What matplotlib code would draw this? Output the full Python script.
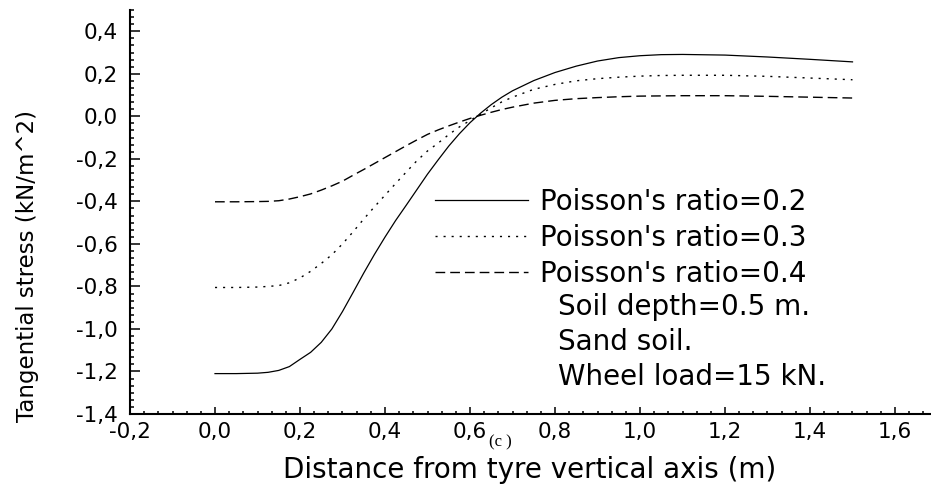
import numpy as np
import matplotlib
matplotlib.use("Agg")
import matplotlib.pyplot as plt
from matplotlib.ticker import MultipleLocator, AutoMinorLocator, FuncFormatter

# distance from tyre vertical axis (m)
distance = [0.0, 0.05,
            0.1, 0.125, 0.15, 0.175, 0.2, 0.225, 0.25, 0.275, 0.3, 0.325, 0.35, 0.375,
            0.4, 0.425, 0.45, 0.475, 0.5, 0.525, 0.55, 0.575, 0.6, 0.625, 0.65, 0.675,
            0.7, 0.75, 0.8, 0.85, 0.9, 0.95, 1.0, 1.05, 1.1, 1.2, 1.3, 1.4, 1.5]

# tangential stress (kN/m^2) for each Poisson's ratio
stress_02 = [-1.21, -1.21,
             -1.208, -1.204, -1.195, -1.177, -1.143, -1.11, -1.063, -1.0, -0.918,
             -0.828, -0.737, -0.65, -0.568, -0.49, -0.418, -0.345, -0.272, -0.205,
             -0.14, -0.082, -0.03, 0.015, 0.055, 0.09,
             0.12, 0.168, 0.206, 0.236, 0.26, 0.276, 0.285, 0.29, 0.291,
             0.288, 0.279, 0.268, 0.256]
stress_03 = [-0.805, -0.805,
             -0.803, -0.80, -0.796, -0.783, -0.76, -0.729, -0.692, -0.651, -0.60,
             -0.543, -0.483, -0.426, -0.371, -0.316, -0.262, -0.209, -0.163, -0.126,
             -0.086, -0.05, -0.02, 0.01, 0.04, 0.068,
             0.09, 0.127, 0.15, 0.167, 0.177, 0.184, 0.189, 0.192, 0.193,
             0.193, 0.188, 0.18, 0.172]
stress_04 = [-0.402, -0.402,
             -0.401, -0.40, -0.397, -0.389, -0.378, -0.365, -0.347, -0.327, -0.305,
             -0.277, -0.25, -0.222, -0.194, -0.166, -0.138, -0.111, -0.085, -0.064,
             -0.045, -0.027, -0.01, 0.005, 0.019, 0.032,
             0.043, 0.062, 0.075, 0.083, 0.088, 0.092, 0.095, 0.096, 0.097,
             0.097, 0.094, 0.09, 0.086]

labels = ["Poisson's ratio=0.2", "Poisson's ratio=0.3", "Poisson's ratio=0.4"]
notes = ["Soil depth=0.5 m.", "Sand soil.", "Wheel load=15 kN."]

W, H = 931, 486
fig = plt.figure(figsize=(W / 100, H / 100), dpi=100)
ax = fig.add_axes([130 / W, (H - 414) / H, (W - 130) / W, (414 - 10) / H])

ax.plot(distance, stress_02, color='black', lw=0.9, ls='-', label=labels[0])
ax.plot(distance, stress_03, color='black', lw=1.0, ls=(0, (1.5, 4.3)), label=labels[1])
ax.plot(distance, stress_04, color='black', lw=1.0, ls=(0, (7, 3.6)), label=labels[2])

ax.set_xlim(-0.2, -0.2 + 801 / 425)
ax.set_ylim(-1.4, 0.5)

for s in ['top', 'right']:
    ax.spines[s].set_visible(False)
for s in ['left', 'bottom']:
    ax.spines[s].set_linewidth(1.5)


def comma_fmt(v, pos):
    v = round(v, 2)
    if v == 0:
        v = 0.0
    return f"{v:.1f}".replace('.', ',')


ax.xaxis.set_major_locator(MultipleLocator(0.2))
ax.yaxis.set_major_locator(MultipleLocator(0.2))
ax.xaxis.set_minor_locator(AutoMinorLocator(6))
ax.yaxis.set_minor_locator(AutoMinorLocator(6))
ax.xaxis.set_major_formatter(FuncFormatter(comma_fmt))
ax.yaxis.set_major_formatter(FuncFormatter(comma_fmt))

ax.tick_params(axis='both', which='both', direction='in', width=1.1, labelsize=15.5,
               colors='black')
ax.tick_params(axis='y', which='major', length=7.2, pad=9)
ax.tick_params(axis='y', which='minor', length=3.2)
ax.tick_params(axis='x', which='major', length=5, pad=5.5)
ax.tick_params(axis='x', which='minor', length=2.5)

fig.text(28 / W, 1 - 266 / H, 'Tangential stress (kN/m^2)', rotation=90,
         ha='center', va='center', fontsize=16.5)
fig.text(530 / W, 1 - 470 / H, 'Distance from tyre vertical axis (m)',
         ha='center', va='center', fontsize=20)
# panel tag, nudged right of the 0,6 tick label so it does not collide
fig.text(500 / W, 1 - 442 / H, '(c )', ha='center', va='center', fontsize=12,
         family='Liberation Serif')

ax.legend(loc='upper left', bbox_to_anchor=(435 / W, 1 - 188 / H),
          bbox_transform=fig.transFigure, frameon=False, fontsize=20,
          borderpad=0, borderaxespad=0, handlelength=3.35, handletextpad=0.43,
          labelspacing=0.28)

for i, t in enumerate(notes):
    fig.text(558 / W, 1 - (307 + 35.2 * i) / H, t, ha='left', va='center', fontsize=20)

fig.savefig('out.png', dpi=100)
